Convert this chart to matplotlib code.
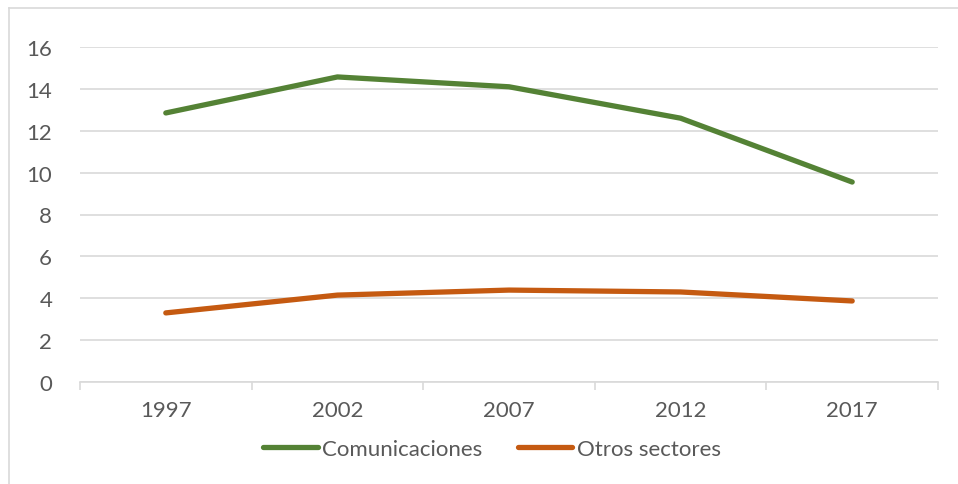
import matplotlib.pyplot as plt
from matplotlib.lines import Line2D

years = ["1997", "2002", "2007", "2012", "2017"]
comunicaciones = [12.85, 14.57, 14.1, 12.6, 9.55]
otros_sectores = [3.3, 4.15, 4.39, 4.3, 3.87]

plt.rcParams['font.family'] = ['Lato', 'DejaVu Sans']

fig = plt.figure(figsize=(9.58, 4.85), dpi=100)
ax = fig.add_axes([80 / 958, 1 - 383 / 485, 858 / 958, 335 / 485])

x = list(range(len(years)))
ax.plot(x, comunicaciones, color="#548235", linewidth=3.8,
        solid_capstyle="round", solid_joinstyle="round", label="Comunicaciones")
ax.plot(x, otros_sectores, color="#C55A11", linewidth=3.8,
        solid_capstyle="round", solid_joinstyle="round", label="Otros sectores")

# axes look
ax.set_xlim(-0.5, len(years) - 0.5)
ax.set_ylim(0, 16)
ax.set_yticks(range(0, 17, 2))
ax.set_xticks(x)
ax.set_xticklabels(years)
ax.set_xticks([i - 0.5 for i in range(len(years) + 1)], minor=True)
ax.grid(axis="y", color="#D9D9D9", linewidth=1.2)
ax.set_axisbelow(True)
for side in ["top", "right", "left"]:
    ax.spines[side].set_visible(False)
ax.spines["bottom"].set_color("#D9D9D9")
ax.spines["bottom"].set_linewidth(1.2)
ax.tick_params(axis="y", length=0, pad=20, labelsize=16, labelcolor="#595959")
ax.tick_params(axis="x", which="major", length=0, pad=13, labelsize=16,
               labelcolor="#595959")
ax.tick_params(axis="x", which="minor", length=6, width=1.2, color="#D9D9D9")

# legend under the chart
ax.legend(loc="center", bbox_to_anchor=(492 / 958, 1 - 450 / 485),
          bbox_transform=fig.transFigure, ncol=2, frameon=False,
          fontsize=16, handlelength=2.45, handletextpad=0.2,
          columnspacing=1.6, labelcolor="#595959")

# chart border (top and left visible in the picture)
fig.add_artist(Line2D([8.5 / 958, 8.5 / 958], [0, 1 - 8.5 / 485],
                      transform=fig.transFigure, color="#D9D9D9", linewidth=1.2))
fig.add_artist(Line2D([8.5 / 958, 1], [1 - 8.5 / 485, 1 - 8.5 / 485],
                      transform=fig.transFigure, color="#D9D9D9", linewidth=1.2))

fig.savefig("out.png", dpi=100)
